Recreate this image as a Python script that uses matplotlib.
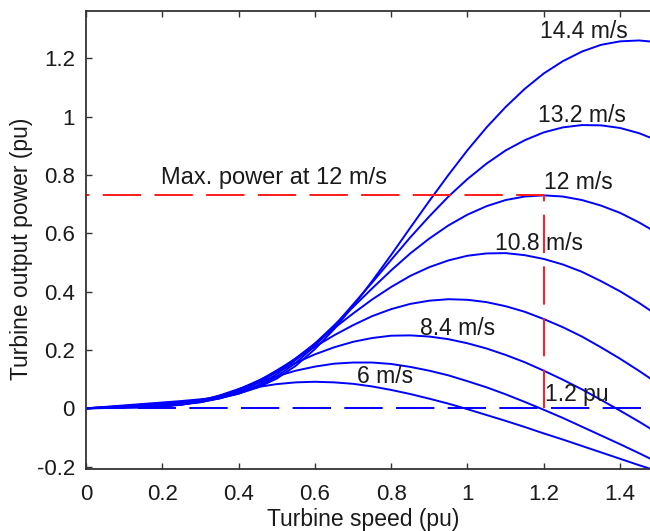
import matplotlib
matplotlib.use("Agg")
import matplotlib.pyplot as plt

plt.rcParams['font.family'] = ['Liberation Sans', 'DejaVu Sans']
plt.rcParams['lines.scale_dashes'] = False

# ---- data ----
turbine_speed = [0.00, 0.05, 0.10, 0.15, 0.20, 0.25, 0.30, 0.35, 0.40, 0.45,
                 0.50, 0.55, 0.60, 0.65, 0.70, 0.75, 0.80, 0.85, 0.90, 0.95,
                 1.00, 1.05, 1.10, 1.15, 1.20, 1.25, 1.30, 1.35, 1.40, 1.45, 1.50]

p_6_0 = [0, 0.001, 0.002, 0.003, 0.006, 0.015, 0.028, 0.043, 0.059, 0.073,
         0.083, 0.089, 0.091, 0.089, 0.084, 0.075, 0.063, 0.049, 0.033, 0.016,
         -0.003, -0.023, -0.043, -0.064, -0.086, -0.107, -0.129, -0.151, -0.173, -0.195, -0.216]
p_7_2 = [0, 0.001, 0.003, 0.004, 0.006, 0.013, 0.025, 0.044, 0.066, 0.089,
         0.110, 0.129, 0.143, 0.153, 0.157, 0.157, 0.152, 0.142, 0.129, 0.113,
         0.093, 0.072, 0.048, 0.022, -0.005, -0.033, -0.063, -0.093, -0.123, -0.154, -0.186]
p_8_4 = [0, 0.002, 0.003, 0.005, 0.007, 0.012, 0.023, 0.040, 0.065, 0.094,
         0.125, 0.156, 0.185, 0.209, 0.228, 0.241, 0.249, 0.250, 0.246, 0.237,
         0.223, 0.205, 0.183, 0.158, 0.129, 0.098, 0.065, 0.029, -0.008, -0.046, -0.086]
p_9_6 = [0, 0.002, 0.004, 0.007, 0.009, 0.013, 0.021, 0.036, 0.060, 0.092,
         0.130, 0.170, 0.211, 0.250, 0.285, 0.316, 0.340, 0.358, 0.369, 0.374,
         0.372, 0.364, 0.350, 0.331, 0.306, 0.278, 0.246, 0.209, 0.170, 0.128, 0.084]
p_10_8 = [0, 0.003, 0.006, 0.008, 0.011, 0.015, 0.021, 0.034, 0.055, 0.086,
          0.125, 0.172, 0.222, 0.274, 0.325, 0.373, 0.416, 0.454, 0.484, 0.507,
          0.523, 0.531, 0.532, 0.525, 0.512, 0.493, 0.468, 0.436, 0.401, 0.361, 0.317]
p_12_0 = [0, 0.003, 0.007, 0.010, 0.014, 0.018, 0.023, 0.034, 0.051, 0.079,
          0.117, 0.166, 0.222, 0.284, 0.347, 0.411, 0.473, 0.531, 0.582, 0.627,
          0.664, 0.693, 0.714, 0.726, 0.730, 0.726, 0.714, 0.695, 0.670, 0.637, 0.599]
p_13_2 = [0, 0.004, 0.008, 0.013, 0.017, 0.021, 0.027, 0.035, 0.050, 0.074,
          0.109, 0.156, 0.214, 0.281, 0.356, 0.431, 0.509, 0.586, 0.658, 0.726,
          0.786, 0.839, 0.884, 0.919, 0.946, 0.963, 0.971, 0.970, 0.961, 0.943, 0.917]
p_14_4 = [0, 0.005, 0.010, 0.015, 0.020, 0.025, 0.031, 0.038, 0.051, 0.071,
          0.102, 0.146, 0.203, 0.271, 0.350, 0.436, 0.526, 0.619, 0.711, 0.800,
          0.885, 0.963, 1.033, 1.095, 1.148, 1.190, 1.223, 1.246, 1.258, 1.261, 1.255]

power_curves = [p_6_0, p_7_2, p_8_4, p_9_6, p_10_8, p_12_0, p_13_2, p_14_4]

max_power_12 = 0.73
rated_speed = 1.2
zero_line_x = [0.0, 1.5]

curve_labels = ["14.4 m/s", "13.2 m/s", "12 m/s", "10.8 m/s", "8.4 m/s", "6 m/s"]
curve_label_x = [1.191, 1.186, 1.2005, 1.072, 0.8755, 0.7116]
curve_label_y = [1.2685, 0.983, 0.7514, 0.5425, 0.2514, 0.087]

xticks = [0, 0.2, 0.4, 0.6, 0.8, 1.0, 1.2, 1.4]
xtick_labels = ["0", "0.2", "0.4", "0.6", "0.8", "1", "1.2", "1.4"]
yticks = [-0.2, 0, 0.2, 0.4, 0.6, 0.8, 1.0, 1.2]
ytick_labels = ["-0.2", "0", "0.2", "0.4", "0.6", "0.8", "1", "1.2"]

# ---- figure ----
fig = plt.figure(figsize=(6.5, 5.31), dpi=100)
ax = fig.add_axes([86 / 650, 62 / 531, 564 / 650, 458 / 531])

txt_color = "#1a1a1a"
blue = "#0000ff"
red = "#ff1a1a"
dash = (27.6, 9.6)

ax.plot(zero_line_x, [0, 0], color=blue, lw=1.4, linestyle=(0, dash))
for p in power_curves:
    ax.plot(turbine_speed, p, color=blue, lw=1.4, solid_joinstyle='round')

ax.plot([0, rated_speed], [max_power_12, max_power_12], color=red, lw=1.4,
        linestyle=(25.1, dash))
ax.plot([rated_speed, rated_speed], [0, max_power_12], color=red, lw=1.4,
        linestyle=(0, dash))

fs = 16.5
for lab, x, y in zip(curve_labels, curve_label_x, curve_label_y):
    ax.text(x, y, lab, fontsize=fs, color=txt_color, ha='left', va='baseline')
ax.text(1.2031, 0.0264, "1.2 pu", fontsize=fs, color=txt_color, ha='left', va='baseline')
ax.text(0.1953, 0.7685, "Max. power at 12 m/s", fontsize=17, color=txt_color,
        ha='left', va='baseline')

ax.set_xlim(0, 1.4784)
ax.set_ylim(-0.208, 1.362)
ax.set_xticks(xticks)
ax.set_xticklabels(xtick_labels)
ax.set_yticks(yticks)
ax.set_yticklabels(ytick_labels)

ax.spines['right'].set_visible(False)
for s in ['left', 'bottom', 'top']:
    ax.spines[s].set_color('#333333')
    ax.spines[s].set_linewidth(1.3)

ax.tick_params(axis='both', direction='in', length=4, width=1.0, colors='#333333',
               labelsize=16, labelcolor=txt_color, top=True, right=False)
ax.tick_params(axis='y', pad=8)
ax.tick_params(axis='x', pad=10.5)

ax.set_xlabel("Turbine speed (pu)", fontsize=fs, color=txt_color)
ax.set_ylabel("Turbine output power (pu)", fontsize=fs, color=txt_color)
ax.xaxis.set_label_coords(0.492, -0.085)
ax.yaxis.set_label_coords(-0.0931, 0.48)

fig.savefig("out.png", dpi=100)
